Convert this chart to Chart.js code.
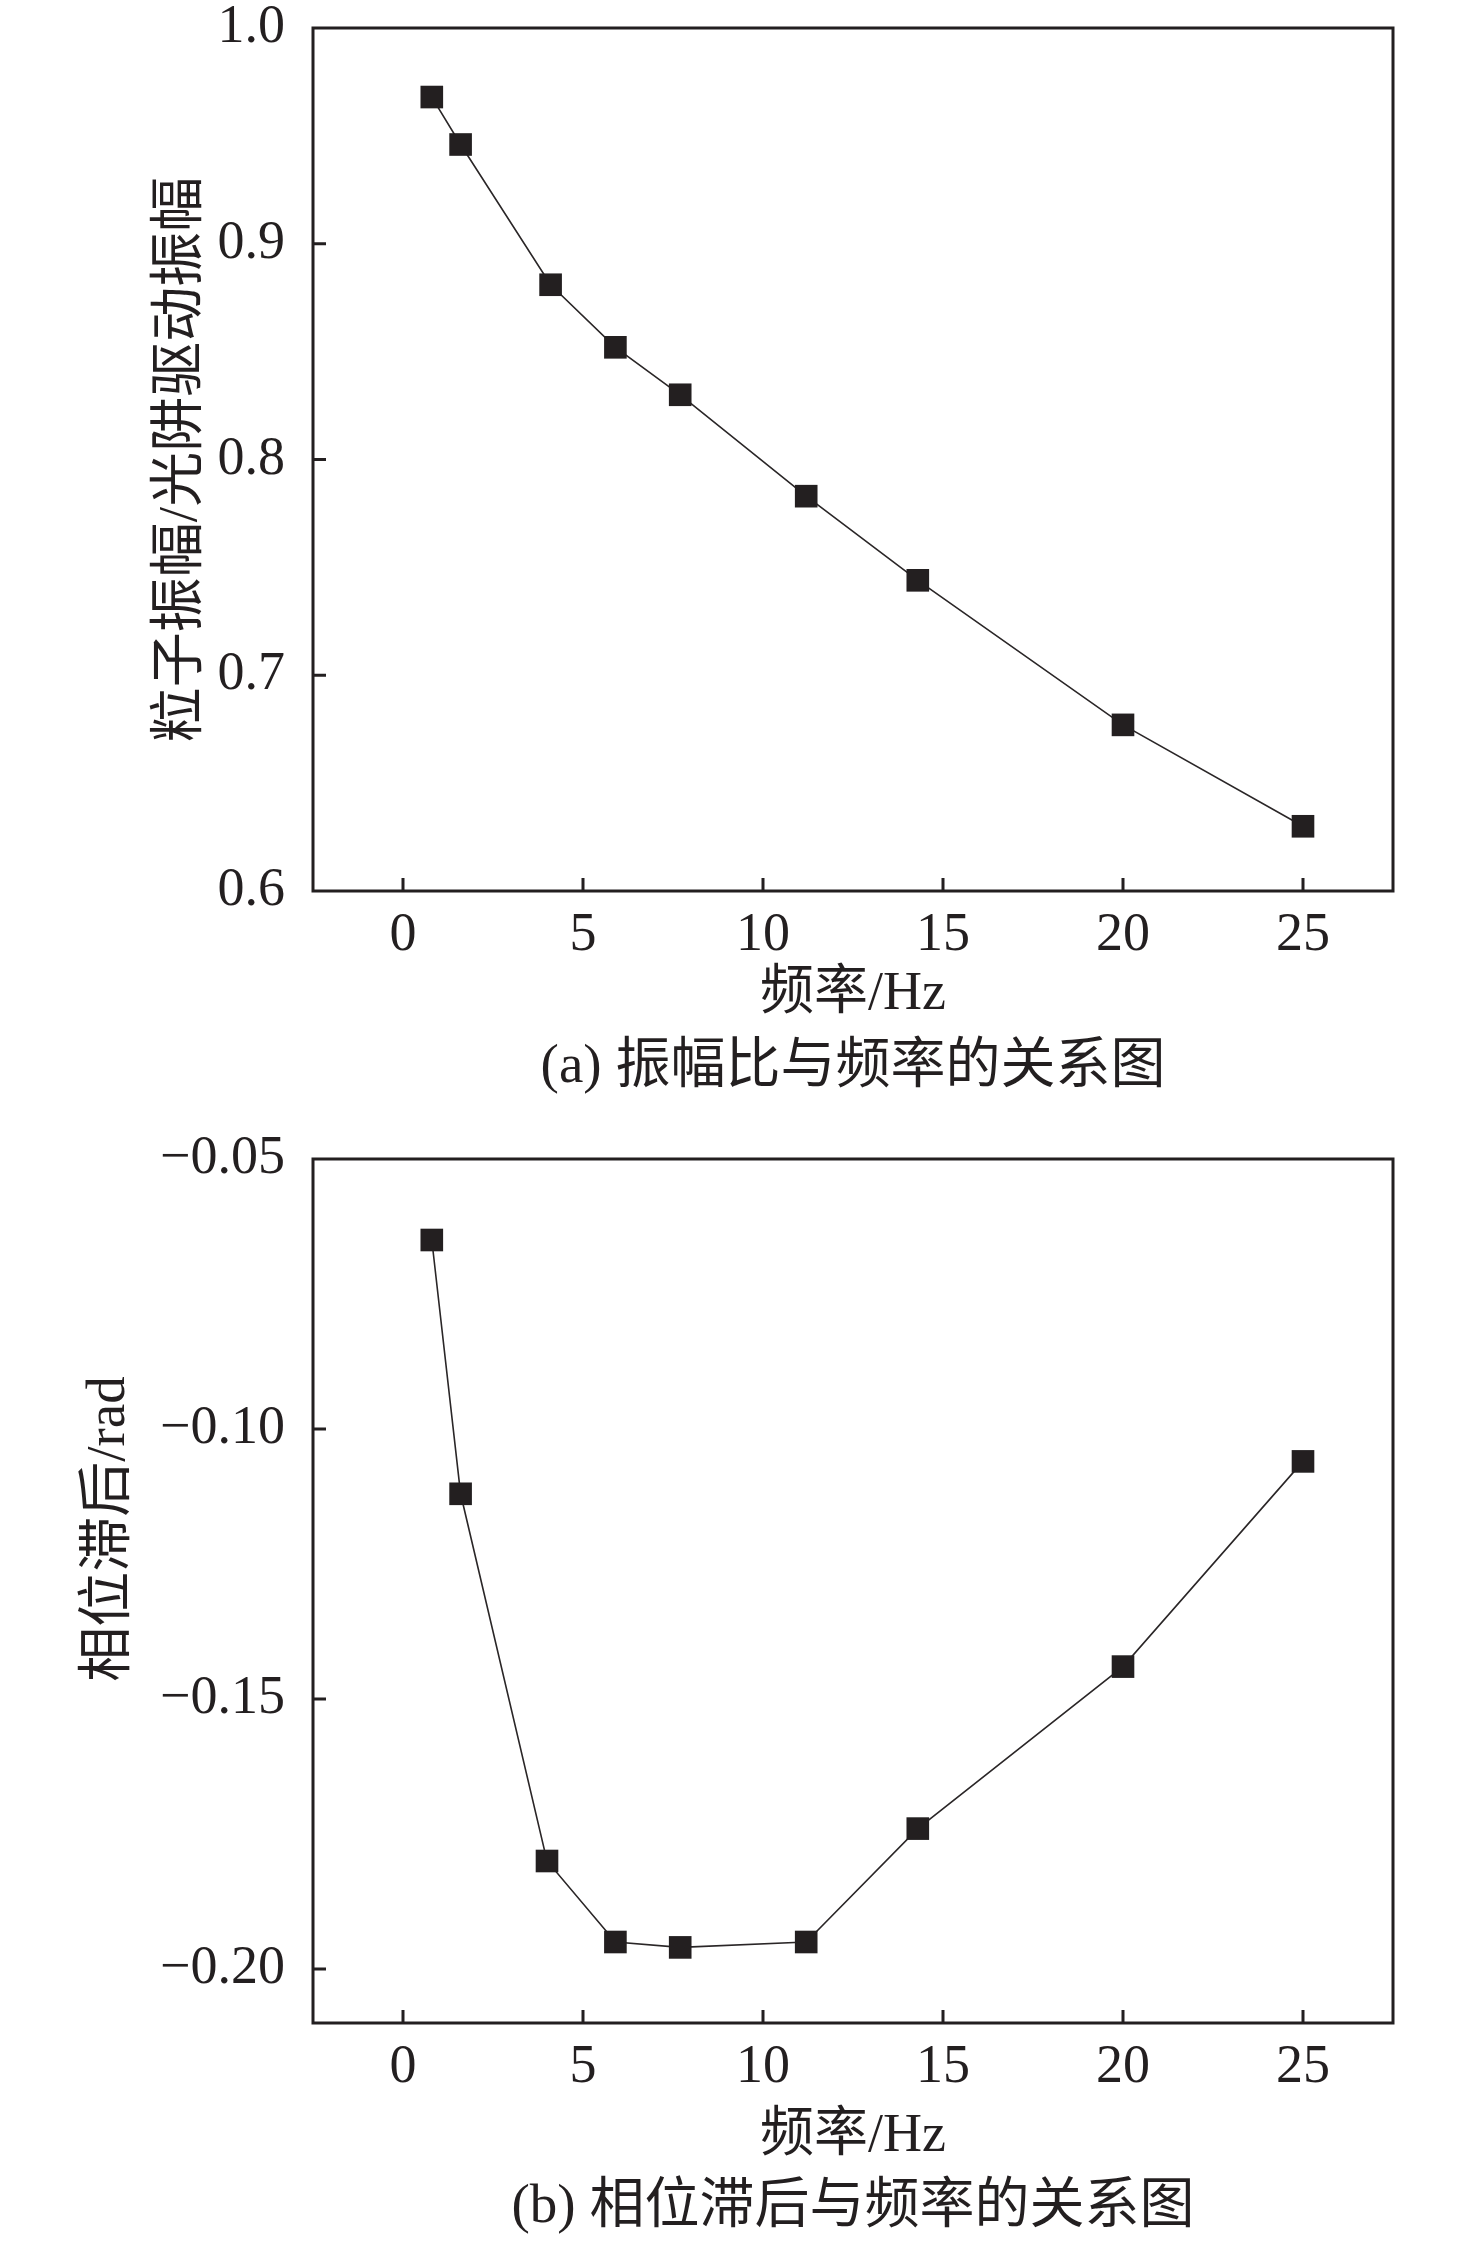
<!DOCTYPE html>
<html lang="zh">
<head>
    <meta charset="UTF-8">
    <title>振幅比与相位滞后</title>
    <script src="https://cdn.jsdelivr.net/npm/chart.js"></script>
    <style>
        body { margin: 0; background: #ffffff; }
        .wrap { position: relative; width: 1476px; height: 2243px; }
        canvas { position: absolute; left: 0; }
        #chartA { top: 0; }
        #chartB { top: 1120px; }
    </style>
</head>
<body>
<div class="wrap">
    <canvas id="chartA" width="1476" height="1120"></canvas>
    <canvas id="chartB" width="1476" height="1123"></canvas>
</div>
<script>
// data
const freqA = [0.8, 1.6, 4.1, 5.9, 7.7, 11.2, 14.3, 20.0, 25.0];
const ampRatio = [0.968, 0.946, 0.881, 0.852, 0.830, 0.783, 0.744, 0.677, 0.630];
const freqB = [0.8, 1.6, 4.0, 5.9, 7.7, 11.2, 14.3, 20.0, 25.0];
const phaseLag = [-0.065, -0.112, -0.180, -0.195, -0.196, -0.195, -0.174, -0.144, -0.106];

const xTicks = [0, 5, 10, 15, 20, 25];
const ampTicks = [0.6, 0.7, 0.8, 0.9, 1.0];
const phaseTicks = [-0.20, -0.15, -0.10, -0.05];

const ink = '#231f20';
const fontFam = '"Liberation Serif", "Noto Sans CJK SC", serif';

// box, inward ticks, axis titles and caption
const framePlugin = {
    id: 'frame',
    afterDraw(chart, args, opts) {
        const { ctx, chartArea: a, scales: { x, y } } = chart;
        ctx.save();
        ctx.strokeStyle = ink;
        ctx.lineWidth = 3;
        ctx.strokeRect(a.left, a.top, a.right - a.left, a.bottom - a.top);

        ctx.beginPath();
        x.ticks.forEach(t => {
            const px = x.getPixelForValue(t.value);
            ctx.moveTo(px, a.bottom);
            ctx.lineTo(px, a.bottom - 13);
        });
        y.ticks.forEach(t => {
            const py = y.getPixelForValue(t.value);
            if (py <= a.top + 2 || py >= a.bottom - 2) return;
            ctx.moveTo(a.left, py);
            ctx.lineTo(a.left + 13, py);
        });
        ctx.stroke();

        ctx.fillStyle = ink;
        ctx.textAlign = 'center';
        ctx.textBaseline = 'middle';
        const cx = (a.left + a.right) / 2;
        ctx.font = '54px ' + fontFam;
        ctx.fillText(opts.xTitle, cx, a.bottom + opts.xTitleGap);
        ctx.font = '55px ' + fontFam;
        ctx.fillText(opts.caption, cx, a.bottom + opts.captionGap);

        ctx.translate(opts.yTitleX, (a.top + a.bottom) / 2 + opts.yTitleShift);
        ctx.rotate(-Math.PI / 2);
        ctx.font = '55px ' + fontFam;
        ctx.fillText(opts.yTitle, 0, 0);
        ctx.restore();
    }
};

function makeChart(id, xs, ys, yTicks, yMin, yMax, digits, pad, frameOpts) {
    new Chart(document.getElementById(id), {
        type: 'line',
        data: {
            datasets: [{
                data: xs.map((v, i) => ({ x: v, y: ys[i] })),
                borderColor: '#2a2627',
                borderWidth: 1.6,
                pointStyle: 'rect',
                pointRadius: 16,
                pointBackgroundColor: ink,
                pointBorderColor: ink,
                pointBorderWidth: 0,
                tension: 0
            }]
        },
        options: {
            responsive: false,
            devicePixelRatio: 1,
            animation: false,
            layout: { padding: pad },
            plugins: {
                legend: { display: false },
                tooltip: { enabled: false },
                frame: frameOpts
            },
            scales: {
                x: {
                    type: 'linear',
                    min: -2.5,
                    max: 27.5,
                    grid: { display: false },
                    border: { display: false },
                    afterBuildTicks: s => { s.ticks = xTicks.map(v => ({ value: v })); },
                    afterFit: s => {
                        s.height = 100;
                        s.paddingLeft = 0;
                        s.paddingRight = 0;
                    },
                    ticks: {
                        color: ink,
                        padding: 10,
                        maxRotation: 0,
                        font: { family: fontFam, size: 54, lineHeight: 1 },
                        callback: v => String(v)
                    }
                },
                y: {
                    type: 'linear',
                    min: yMin,
                    max: yMax,
                    grid: { display: false },
                    border: { display: false },
                    afterBuildTicks: s => { s.ticks = yTicks.map(v => ({ value: v })); },
                    afterFit: s => {
                        s.width = 313;
                        s.paddingTop = 0;
                        s.paddingBottom = 0;
                    },
                    ticks: {
                        color: ink,
                        padding: 20,
                        font: { family: fontFam, size: 54, lineHeight: 1 },
                        callback: v => Number(v).toFixed(digits).replace('-', '\u2212')
                    }
                }
            }
        },
        plugins: [framePlugin]
    });
}

makeChart('chartA', freqA, ampRatio, ampTicks, 0.6, 1.0, 1,
    { left: 0, right: 83, top: 28, bottom: 129 },
    { xTitle: '频率/Hz', caption: '(a) 振幅比与频率的关系图', yTitle: '粒子振幅/光阱驱动振幅',
      xTitleGap: 104, captionGap: 177, yTitleX: 182, yTitleShift: 0 });

makeChart('chartB', freqB, phaseLag, phaseTicks, -0.21, -0.05, 2,
    { left: 0, right: 83, top: 39, bottom: 120 },
    { xTitle: '频率/Hz', caption: '(b) 相位滞后与频率的关系图', yTitle: '相位滞后/rad',
      xTitleGap: 114, captionGap: 185, yTitleX: 110, yTitleShift: -62 });
</script>
</body>
</html>
